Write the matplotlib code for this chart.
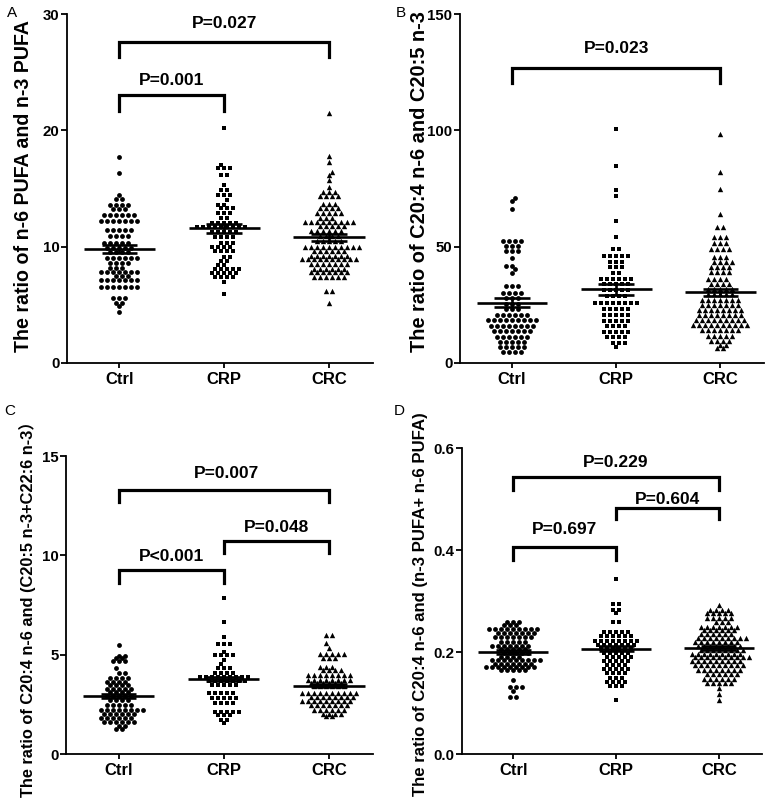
import numpy as np
import matplotlib
matplotlib.use('Agg')
import matplotlib.pyplot as plt

plt.rcParams['font.family'] = ['Liberation Sans', 'Noto Sans CJK SC', 'DejaVu Sans']

groups = ['Ctrl', 'CRP', 'CRC']
markers = ['o', 's', '^']

# ---- data: rows of (value, number of points at that value) ----
A_ctrl = [(17.7,1),(16.3,1),(14.4,1),(14.1,2),(13.6,4),(13.2,3),(12.7,6),(12.2,7),(11.4,5),(10.9,4),(10.3,5),(9.9,5),(9.5,4),(9.0,6),(8.6,4),(8.15,3),(7.85,7),(7.5,3),(7.13,7),(6.56,7),(5.6,3),(5.2,2),(4.9,1),(4.4,1)]
A_crp = [(20.2,1),(17.0,1),(16.8,3),(16.2,2),(15.3,1),(14.9,2),(14.4,3),(14.0,1),(13.6,2),(13.3,3),(12.9,3),(12.5,2),(12.0,5),(11.7,9),(11.3,5),(10.8,4),(10.3,3),(10.0,4),(9.6,4),(9.1,2),(8.8,2),(8.4,2),(8.05,5),(7.7,5),(7.35,4),(7.0,1),(5.9,1)]
A_crc = [(21.5,1),(17.8,1),(17.25,1),(16.45,1),(16.2,1),(15.7,1),(15.15,1),(14.7,3),(14.35,4),(13.7,3),(13.3,4),(12.9,5),(12.5,3),(12.15,9),(11.75,5),(11.35,6),(10.95,4),(10.5,5),(10.0,10),(9.6,6),(9.2,7),(8.9,10),(8.5,7),(8.1,6),(7.8,7),(7.4,6),(6.2,2),(5.13,1)]

B_ctrl = [(70.8,1),(69.8,1),(66.0,1),(52.6,4),(50.4,3),(48.0,3),(45.0,1),(41.8,2),(40.3,1),(38.5,1),(33.0,3),(30.3,4),(27.8,3),(25.5,3),(23.2,3),(20.6,6),(18.3,9),(15.9,8),(13.6,7),(11.3,6),(9.0,5),(6.8,5),(4.6,4)]
B_crp = [(100.6,1),(84.7,1),(74.4,1),(71.8,1),(61.2,1),(54.3,1),(48.9,2),(46.0,5),(43.6,3),(41.2,3),(38.8,2),(36.3,6),(33.9,5),(31.5,5),(29.0,4),(25.8,8),(23.0,5),(20.6,5),(18.2,5),(15.8,4),(13.4,5),(11.0,4),(8.6,3),(7.0,1)]
B_crc = [(98.4,1),(82.0,1),(74.6,1),(63.9,1),(58.6,2),(54.0,3),(51.5,3),(48.8,4),(45.7,3),(43.5,4),(41.4,4),(39.2,4),(36.0,4),(34.0,4),(31.8,5),(29.6,5),(27.2,7),(25.0,7),(22.8,8),(20.6,8),(18.4,9),(16.2,10),(14.0,7),(11.8,5),(9.6,4),(7.8,2),(6.5,2)]

C_ctrl = [(5.49,1),(4.95,2),(4.85,2),(4.70,3),(4.31,1),(4.06,2),(3.81,4),(3.64,4),(3.47,4),(3.27,5),(3.10,4),(2.92,5),(2.72,4),(2.47,5),(2.21,8),(2.02,6),(1.82,6),(1.60,6),(1.40,2),(1.25,2)]
C_crp = [(7.83,1),(6.63,1),(5.91,1),(5.52,3),(5.15,1),(4.98,4),(4.73,1),(4.51,1),(4.31,3),(4.06,4),(3.89,9),(3.68,7),(3.47,5),(3.05,5),(2.80,5),(2.55,4),(2.13,5),(1.96,3),(1.71,2),(1.54,1)]
C_crc = [(5.99,2),(5.57,1),(5.35,1),(5.05,5),(4.85,3),(4.39,3),(4.23,4),(3.98,8),(3.72,8),(3.55,6),(3.40,6),(3.05,10),(2.88,8),(2.67,9),(2.47,7),(2.21,6),(2.00,4),(1.90,2)]

D_ctrl = [(0.258,3),(0.253,3),(0.246,9),(0.238,7),(0.230,7),(0.220,5),(0.212,7),(0.205,5),(0.198,5),(0.191,4),(0.184,9),(0.177,7),(0.171,9),(0.165,5),(0.145,1),(0.132,3),(0.124,1),(0.112,2)]
D_crp = [(0.343,1),(0.294,2),(0.282,2),(0.276,1),(0.258,2),(0.240,5),(0.232,6),(0.222,8),(0.214,7),(0.206,6),(0.198,5),(0.190,5),(0.182,5),(0.174,4),(0.166,5),(0.158,4),(0.150,3),(0.142,4),(0.133,3),(0.105,1)]
D_crc = [(0.292,1),(0.282,4),(0.276,5),(0.266,5),(0.258,3),(0.250,7),(0.243,6),(0.235,6),(0.227,9),(0.219,8),(0.212,8),(0.204,8),(0.197,9),(0.190,10),(0.183,9),(0.175,9),(0.165,8),(0.157,6),(0.148,6),(0.139,5),(0.129,1),(0.118,1),(0.105,1)]

# mean and SEM
A_mean, A_sem = [9.77, 11.58, 10.8], [0.35, 0.38, 0.27]
B_mean, B_sem = [25.9, 31.7, 30.4], [1.9, 2.3, 1.6]
C_mean, C_sem = [2.92, 3.76, 3.44], [0.12, 0.11, 0.09]
D_mean, D_sem = [0.2006, 0.206, 0.2085], [0.004, 0.005, 0.004]

# brackets: (group1, group2, top, leg bottom, text x, text y, label)
A_br = [(0, 1, 23.0, 21.7, 0.5, 24.3, 'P=0.001'), (0, 2, 27.6, 26.3, 1.0, 29.2, 'P=0.027')]
B_br = [(0, 2, 126.8, 120.3, 1.0, 135.0, 'P=0.023')]
C_br = [(0, 2, 13.3, 12.7, 1.03, 14.1, 'P=0.007'), (1, 2, 10.7, 10.1, 1.5, 11.4, 'P=0.048'),
        (0, 1, 9.26, 8.6, 0.5, 9.96, 'P<0.001')]
D_br = [(0, 2, 0.543, 0.518, 1.0, 0.571, 'P=0.229'), (1, 2, 0.482, 0.461, 1.5, 0.500, 'P=0.604'),
        (0, 1, 0.406, 0.380, 0.5, 0.441, 'P=0.697')]

A_ylabel = 'The ratio of n-6 PUFA and n-3 PUFA'
B_ylabel = 'The ratio of C20:4 n-6 and C20:5 n-3'
C_ylabel = 'The ratio of C20:4 n-6 and (C20:5 n-3+C22:6 n-3）'
D_ylabel = 'The ratio of C20:4 n-6 and (n-3 PUFA+ n-6 PUFA)'

A_ticks = [0, 10, 20, 30]
B_ticks = [0, 50, 100, 150]
C_ticks = [0, 5, 10, 15]
D_ticks = [0.0, 0.2, 0.4, 0.6]
D_ticklabels = ['0.0', '0.2', '0.4', '0.6']

W, H = 784, 807
SP = 6.0  # horizontal spacing of points in a row, pixels


def row_offsets(rows, ypx_of):
    """GraphPad-like layout: each row spread symmetrically; near rows interleave."""
    out_v, out_off = [], []
    prev_y, prev_phase, sign = None, None, 1
    for v, n in sorted(rows, key=lambda r: r[0]):
        y = ypx_of(v)
        base = -(n - 1) * SP / 2.0
        shift = 0.0
        phase = base % SP
        if prev_y is not None and abs(y - prev_y) < 5.0 and abs(phase - prev_phase) < 1e-6:
            shift = sign * SP / 2.0
            sign = -sign
        offs = base + shift + SP * np.arange(n)
        out_v.extend([v] * n)
        out_off.extend(offs.tolist())
        prev_y, prev_phase = y, (base + shift) % SP
    return np.array(out_v), np.array(out_off)


fig = plt.figure(figsize=(W / 100, H / 100), dpi=100)
renderer = fig.canvas.get_renderer()

panels = [
    dict(box=(67, 373, 14, 363), ylim=(0, 30), data=[A_ctrl, A_crp, A_crc], mean=A_mean, sem=A_sem,
         br=A_br, ylabel=A_ylabel, ticks=A_ticks, tl=None, lab='A', labxy=(12, 13), ylxy=(24, 186), yl_len=332),
    dict(box=(460, 764, 14, 363), ylim=(0, 150), data=[B_ctrl, B_crp, B_crc], mean=B_mean, sem=B_sem,
         br=B_br, ylabel=B_ylabel, ticks=B_ticks, tl=None, lab='B', labxy=(401, 13), ylxy=(419, 182), yl_len=343),
    dict(box=(66, 373, 456, 754), ylim=(0, 15), data=[C_ctrl, C_crp, C_crc], mean=C_mean, sem=C_sem,
         br=C_br, ylabel=C_ylabel, ticks=C_ticks, tl=None, lab='C', labxy=(10, 411), ylxy=(27, 605), yl_len=384),
    dict(box=(462, 762, 448, 754), ylim=(0, 0.6), data=[D_ctrl, D_crp, D_crc], mean=D_mean, sem=D_sem,
         br=D_br, ylabel=D_ylabel, ticks=D_ticks, tl=D_ticklabels, lab='D', labxy=(399, 411),
         ylxy=(421, 604), yl_len=386),
]

for p in panels:
    l, r, t, b = p['box']
    ax = fig.add_axes([l / W, 1 - b / H, (r - l) / W, (b - t) / H])
    ax.set_xlim(-0.5, 2.42)
    ax.set_ylim(*p['ylim'])
    for s in ['top', 'right']:
        ax.spines[s].set_visible(False)
    for s in ['left', 'bottom']:
        ax.spines[s].set_linewidth(1.3)
    ax.set_xticks(range(3))
    ax.set_xticklabels(groups, fontsize=12, fontweight='bold')
    ax.set_yticks(p['ticks'])
    if p['tl'] is not None:
        ax.set_yticklabels(p['tl'])
    ax.tick_params(axis='y', labelsize=10.8, length=4, width=1.3, pad=1.5)
    ax.tick_params(axis='x', length=3.5, width=1.3, pad=3)
    for lbl in ax.get_yticklabels():
        lbl.set_fontweight('bold')

    pxx = (r - l) / (2.42 + 0.5)  # pixels per x unit
    ypx_of = lambda v, ax=ax: ax.transData.transform((0, v))[1]
    for gi, rows in enumerate(p['data']):
        vals, offs = row_offsets(rows, ypx_of)
        xs = gi + offs / pxx
        m = markers[gi]
        size = {'o': 12, 's': 10.5, '^': 15}[m]
        ax.scatter(xs, vals, marker=m, s=size, c='black', linewidths=0, zorder=2)
        mu, se = p['mean'][gi], p['sem'][gi]
        ax.hlines(mu, gi - 0.34, gi + 0.34, colors='black', lw=1.9, zorder=3)
        ax.hlines([mu - se, mu + se], gi - 0.17, gi + 0.17, colors='black', lw=1.9, zorder=3)
        ax.vlines(gi, mu - se, mu + se, colors='black', lw=1.9, zorder=3)

    for g1, g2, top, leg, tx, ty, txt in p['br']:
        ax.plot([g1, g1, g2, g2], [leg, top, top, leg], color='black', lw=2.3,
                solid_joinstyle='miter', clip_on=False, zorder=3)
        ax.text(tx, ty, txt, ha='center', va='center', fontsize=12.5, fontweight='bold')

    yl = fig.text(p['ylxy'][0] / W, 1 - p['ylxy'][1] / H, p['ylabel'], rotation=90, ha='center', va='center',
                  fontsize=14, fontweight='bold')
    ext = yl.get_window_extent(renderer)
    yl.set_fontsize(14 * p['yl_len'] / ext.height)
    fig.text(p['labxy'][0] / W, 1 - p['labxy'][1] / H, p['lab'], ha='center', va='center', fontsize=11)

fig.savefig('out.png', dpi=100)
